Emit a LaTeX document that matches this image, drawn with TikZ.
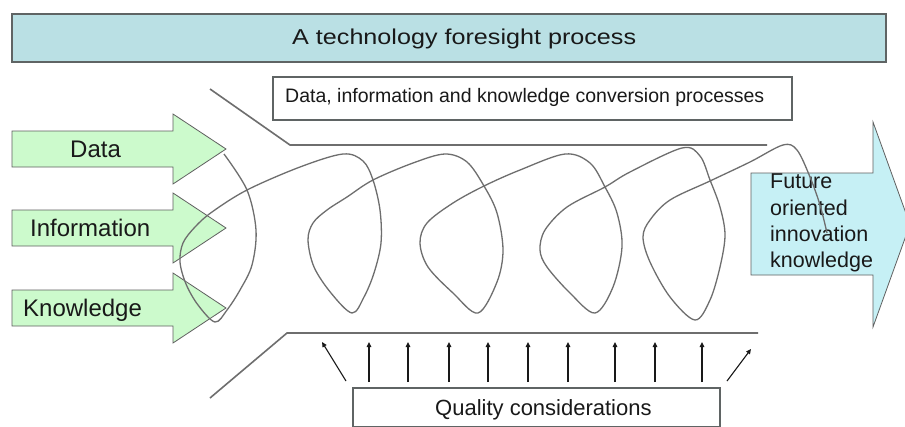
\documentclass[tikz,border=0pt]{standalone}
\usepackage{fontspec}
\setmainfont{Liberation Sans}
\newfontfamily\titlefont[FakeStretch=1.17]{Liberation Sans}
\usetikzlibrary{arrows.meta}
\definecolor{titlefill}{RGB}{186,224,228}
\definecolor{greenfill}{RGB}{204,250,204}
\definecolor{bluefill}{RGB}{198,240,245}
\definecolor{linegray}{RGB}{110,110,110}
\definecolor{boxedge}{RGB}{95,100,100}
\definecolor{txt}{RGB}{25,25,25}
\begin{document}
\begin{tikzpicture}[x=1pt,y=-1pt,
  chan/.style={draw=linegray, line width=1.6pt},
  loopline/.style={draw=linegray, line width=1.3pt},
  garrow/.style={fill=greenfill, draw=gray!75!black, line width=0.8pt},
  barrow/.style={fill=bluefill, draw=gray!75!black, line width=0.8pt},
  plainbox/.style={draw=boxedge, line width=1.4pt, fill=white},
  qarrow/.style={draw=txt, line width=1.1pt, -{Triangle[length=5pt,width=4.5pt]}},
  lbl/.style={inner sep=0pt, text=txt, anchor=base west}]
\useasboundingbox (0,0) rectangle (905,426);
\fill[white] (0,0) rectangle (905,426);

% title
\draw[draw=boxedge, line width=2pt, fill=titlefill] (12,14) rectangle (886,62);
\node[lbl] (title) at (292,44.3) {\titlefont\fontsize{21.5}{25}\selectfont A technology foresight process};

% subtitle box
\draw[plainbox] (273,77) rectangle (792,120);
\node[lbl] (sub) at (285,102.3) {\fontsize{19.5}{23}\selectfont Data, information and knowledge conversion processes};

% channel lines
\draw[chan] (210,89) -- (290,145) -- (767,145);
\draw[chan] (210,398) -- (287,333) -- (758,333);

% green arrows
\foreach \yc in {149,228,308}{
  \draw[garrow] (12,\yc-18) -- (173,\yc-18) -- (173,\yc-35) -- (226,\yc) -- (173,\yc+35) -- (173,\yc+18) -- (12,\yc+18) -- cycle;
}
\node[lbl] (data) at (70,157.3) {\fontsize{24}{28}\selectfont Data};
\node[lbl] (info) at (30,236.7) {\fontsize{24}{28}\selectfont Information};
\node[lbl] (know) at (23,316) {\fontsize{24}{28}\selectfont Knowledge};

% blue arrow
\draw[barrow] (751,173) -- (873,173) -- (873,122) -- (910,224.5) -- (873,327) -- (873,275) -- (751,275) -- cycle;
\node[inner sep=0pt, text=txt, align=left, anchor=north west,
      font={\fontsize{21.5}{26.3}\selectfont}] (future) at (770,174) {Future\\oriented\\innovation\\knowledge};

% spiral
\draw[loopline] plot[smooth, tension=0.55] coordinates {
 (224,154) (247,190) (256,230) (252,265) (240,290) (227,310) (215,322)
 (198,305) (186,284) (180,262) (183,243) (195,227) (212,212) (247,190) (300,167) (343,154)
 (363,161) (373,180) (380,210) (381,243) (374,273) (364,297) (352,313)
 (331,293) (314,267) (308,240) (313,223) (327,210) (347,197) (373,180) (413,163) (445,154)
 (467,162) (484,186) (497,213) (503,250) (497,282) (478,313)
 (453,293) (428,267) (420,243) (427,223) (453,203) (484,186) (520,170) (565,154)
 (590,163) (605,187) (617,213) (622,247) (613,287) (595,313)
 (570,293) (547,267) (540,250) (545,230) (567,207) (605,187) (630,172) (682,148)
 (700,156) (710,180) (720,207) (725,235) (720,267) (710,300) (695,320)
 (670,297) (650,262) (643,237) (650,220) (670,200) (710,181) (750,162) (783,145)
 (797,150) (810,177) (820,205) (827,233)
};

% quality box
\draw[plainbox] (353,388) rectangle (720,427);
\node[lbl] (qual) at (435,415) {\fontsize{22}{26}\selectfont Quality considerations};

% quality arrows
\coordinate (la) at (346,381); \coordinate (lb) at (322,342);
\draw[qarrow] (la) -- (lb);
\foreach \xx [count=\i] in {369,408,449,488,528,568,615,655,702}{
  \coordinate (t\i) at (\xx,382);
  \coordinate (h\i) at (\xx,342);
  \draw[qarrow] (t\i) -- (h\i);
}
\coordinate (ra) at (727,381); \coordinate (rb) at (751,349);
\draw[qarrow] (ra) -- (rb);
\end{tikzpicture}
\end{document}
